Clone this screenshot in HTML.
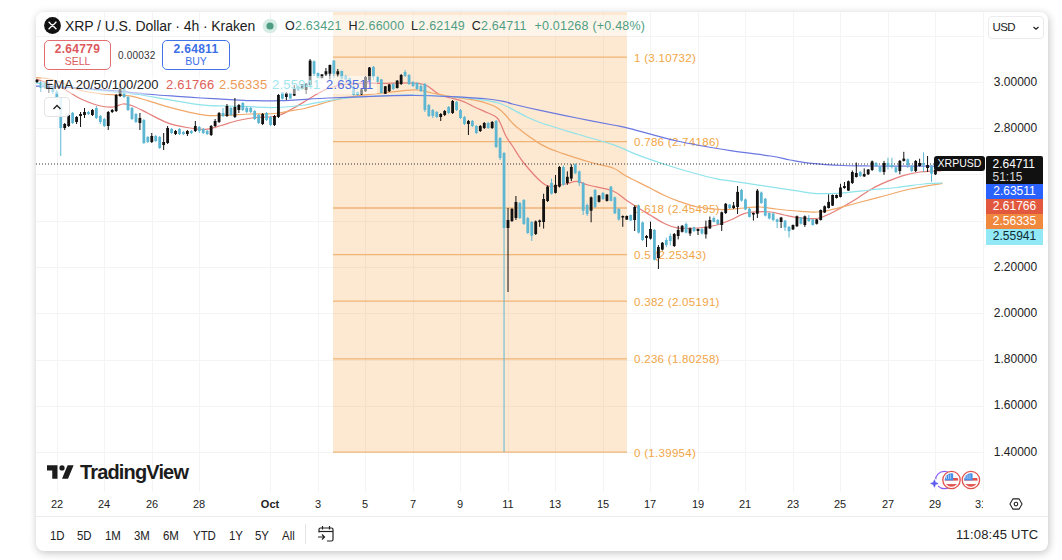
<!DOCTYPE html>
<html><head><meta charset="utf-8"><title>XRPUSD chart</title>
<style>
html,body{margin:0;padding:0;background:#fff;}
body{width:1062px;height:560px;position:relative;overflow:hidden;font-family:"Liberation Sans",sans-serif;color:#222;}
.card{position:absolute;left:36px;top:12px;width:1012px;height:538.5px;background:#fff;border-radius:8px;box-shadow:1px 2px 8px 0 rgba(0,0,0,.24);}
.abs{position:absolute;white-space:nowrap;line-height:1;}
.t12{font-size:12px}
.pl{position:absolute;left:986px;width:57px;height:15px;font-size:12px;line-height:15px;text-align:center;color:#fff;}
.ax{position:absolute;left:984px;width:63px;text-align:center;font-size:12px;color:#222;line-height:12px;}
.tm{position:absolute;top:499px;font-size:11px;line-height:11px;color:#222;transform:translateX(-50%);}
.tb{position:absolute;top:528.5px;font-size:13px;line-height:13px;color:#222;transform:scaleX(.88);transform-origin:0 0;}
</style></head><body>
<div class="card"></div>
<svg width="1062" height="560" viewBox="0 0 1062 560" style="position:absolute;left:0;top:0" font-family="Liberation Sans, sans-serif">
<defs><clipPath id="plot"><rect x="36" y="12" width="948" height="480"/></clipPath><clipPath id="card"><rect x="36" y="12" width="1012" height="539" rx="8"/></clipPath></defs>
<g stroke="#f4f4f6" stroke-width="1" shape-rendering="crispEdges">
<line x1="57.5" y1="12" x2="57.5" y2="492"/>
<line x1="104.5" y1="12" x2="104.5" y2="492"/>
<line x1="152.5" y1="12" x2="152.5" y2="492"/>
<line x1="199.5" y1="12" x2="199.5" y2="492"/>
<line x1="270.5" y1="12" x2="270.5" y2="492"/>
<line x1="318.5" y1="12" x2="318.5" y2="492"/>
<line x1="365.5" y1="12" x2="365.5" y2="492"/>
<line x1="413.5" y1="12" x2="413.5" y2="492"/>
<line x1="460.5" y1="12" x2="460.5" y2="492"/>
<line x1="508.5" y1="12" x2="508.5" y2="492"/>
<line x1="555.5" y1="12" x2="555.5" y2="492"/>
<line x1="603.5" y1="12" x2="603.5" y2="492"/>
<line x1="650.5" y1="12" x2="650.5" y2="492"/>
<line x1="698.5" y1="12" x2="698.5" y2="492"/>
<line x1="745.5" y1="12" x2="745.5" y2="492"/>
<line x1="793.5" y1="12" x2="793.5" y2="492"/>
<line x1="840.5" y1="12" x2="840.5" y2="492"/>
<line x1="888.5" y1="12" x2="888.5" y2="492"/>
<line x1="935.5" y1="12" x2="935.5" y2="492"/>
<line x1="983.5" y1="12" x2="983.5" y2="492"/>
<line x1="36" y1="82.5" x2="984" y2="82.5"/>
<line x1="36" y1="128.5" x2="984" y2="128.5"/>
<line x1="36" y1="174.5" x2="984" y2="174.5"/>
<line x1="36" y1="221.5" x2="984" y2="221.5"/>
<line x1="36" y1="267.5" x2="984" y2="267.5"/>
<line x1="36" y1="313.5" x2="984" y2="313.5"/>
<line x1="36" y1="360.5" x2="984" y2="360.5"/>
<line x1="36" y1="406.5" x2="984" y2="406.5"/>
<line x1="36" y1="452.5" x2="984" y2="452.5"/>
<line x1="36" y1="36.5" x2="984" y2="36.5"/>
</g>
<rect x="333" y="12" width="294" height="440" fill="#f5a040" fill-opacity="0.24"/>
<line x1="333" y1="57.2" x2="627" y2="57.2" stroke="#efb577" stroke-width="1.3"/>
<line x1="333" y1="141.7" x2="627" y2="141.7" stroke="#efb577" stroke-width="1.3"/>
<line x1="333" y1="208.0" x2="627" y2="208.0" stroke="#efb577" stroke-width="1.3"/>
<line x1="333" y1="254.6" x2="627" y2="254.6" stroke="#efb577" stroke-width="1.3"/>
<line x1="333" y1="301.2" x2="627" y2="301.2" stroke="#efb577" stroke-width="1.3"/>
<line x1="333" y1="358.9" x2="627" y2="358.9" stroke="#efb577" stroke-width="1.3"/>
<line x1="333" y1="452.1" x2="627" y2="452.1" stroke="#efb577" stroke-width="1.3"/>
<text x="634" y="61.7" font-size="11.5" letter-spacing="0.3" fill="#f1a544">1 (3.10732)</text>
<text x="634" y="146.2" font-size="11.5" letter-spacing="0.3" fill="#f1a544">0.786 (2.74186)</text>
<text x="634" y="212.5" font-size="11.5" letter-spacing="0.3" fill="#f1a544">0.618 (2.45495)</text>
<text x="634" y="259.1" font-size="11.5" letter-spacing="0.3" fill="#f1a544">0.5 (2.25343)</text>
<text x="634" y="305.7" font-size="11.5" letter-spacing="0.3" fill="#f1a544">0.382 (2.05191)</text>
<text x="634" y="363.4" font-size="11.5" letter-spacing="0.3" fill="#f1a544">0.236 (1.80258)</text>
<text x="634" y="456.6" font-size="11.5" letter-spacing="0.3" fill="#f1a544">0 (1.39954)</text>
<g fill="none" stroke-width="1.25" stroke-linejoin="round" clip-path="url(#plot)">
<path d="M36.0,79.0C38.0,79.7 43.7,81.5 48.0,83.0C52.3,84.5 56.8,85.5 62.0,88.0C67.2,90.5 72.9,95.1 79.0,98.0C85.1,100.9 92.8,104.0 98.5,105.5C104.2,107.0 108.9,107.2 113.0,107.0C117.1,106.8 119.7,104.2 123.0,104.0C126.3,103.8 128.9,104.5 133.0,106.0C137.1,107.5 141.8,110.2 147.5,113.0C153.2,115.8 160.5,120.2 167.0,122.6C173.5,125.0 180.2,126.4 186.7,127.5C193.2,128.6 200.3,129.6 206.0,129.3C211.7,129.0 215.7,127.0 221.0,125.5C226.3,124.0 232.3,121.8 238.0,120.5C243.7,119.2 249.7,118.1 255.0,117.5C260.3,116.9 265.8,117.4 270.0,117.0C274.2,116.6 276.3,116.3 280.0,115.0C283.7,113.7 287.9,111.2 292.0,109.0C296.1,106.8 300.4,104.0 304.5,101.6C308.6,99.1 312.6,96.6 316.7,94.3C320.8,92.0 324.5,89.6 329.0,88.0C333.5,86.4 337.5,85.3 343.6,84.5C349.7,83.7 359.1,83.5 365.7,83.3C372.3,83.1 376.9,83.4 383.0,83.3C389.1,83.2 396.3,82.8 402.0,82.8C407.7,82.8 412.8,82.8 417.0,83.3C421.2,83.8 423.3,83.9 427.0,85.7C430.7,87.5 435.0,92.2 439.0,94.3C443.0,96.3 446.9,96.8 451.0,98.0C455.1,99.2 459.4,100.0 463.6,101.6C467.8,103.2 471.9,105.8 476.0,107.7C480.1,109.6 484.3,111.2 488.0,113.0C491.7,114.8 495.1,115.0 498.0,118.8C500.9,122.6 503.3,131.2 505.7,135.7C508.1,140.2 509.5,141.5 512.5,146.0C515.5,150.5 518.7,156.5 523.5,162.5C528.3,168.5 536.6,178.0 541.4,182.0C546.1,186.0 548.1,186.1 552.0,186.4C555.9,186.7 560.8,184.8 565.0,184.0C569.2,183.2 573.2,181.2 577.0,181.4C580.8,181.6 582.0,183.4 588.0,185.0C594.0,186.6 606.7,188.5 613.0,191.0C619.3,193.5 622.0,197.3 626.0,200.0C630.0,202.7 632.8,204.5 636.8,207.0C640.8,209.5 645.5,212.3 650.0,215.0C654.5,217.7 659.0,220.9 663.5,223.0C668.0,225.1 671.2,227.0 677.0,227.8C682.8,228.6 691.3,228.5 698.0,228.0C704.7,227.5 711.6,226.3 717.0,225.0C722.4,223.7 726.0,221.9 730.5,220.0C735.0,218.1 739.6,215.0 744.0,213.6C748.4,212.2 752.6,212.1 757.0,211.8C761.4,211.5 766.1,211.5 770.6,212.0C775.1,212.5 779.5,214.1 784.0,215.0C788.5,215.9 791.9,217.0 797.4,217.6C802.9,218.2 811.4,219.2 816.8,218.5C822.2,217.8 825.5,215.7 830.0,213.7C834.5,211.7 839.0,209.0 843.5,206.5C848.0,204.0 852.2,201.5 857.0,198.5C861.8,195.5 866.8,191.6 872.0,188.7C877.2,185.8 882.7,183.4 888.0,181.2C893.3,179.0 898.7,176.8 904.0,175.3C909.3,173.8 915.0,172.7 920.0,172.0C925.0,171.3 930.5,171.2 934.0,171.0C937.5,170.8 939.8,170.8 941.0,170.8" stroke="#e57f7a"/>
<path d="M36.0,77.5C38.3,77.8 45.2,77.9 50.0,79.0C54.8,80.1 60.2,82.2 65.0,84.0C69.8,85.8 72.7,88.3 79.0,90.0C85.3,91.7 94.8,93.0 103.0,94.0C111.2,95.0 120.6,94.6 128.0,95.7C135.4,96.8 141.0,98.8 147.5,100.6C154.0,102.4 160.5,104.9 167.0,106.7C173.5,108.5 180.2,110.2 186.7,111.6C193.2,113.0 199.4,114.7 206.0,115.3C212.6,115.9 218.7,115.5 226.0,115.3C233.3,115.1 241.8,114.3 250.0,114.0C258.2,113.7 268.3,114.0 275.0,113.5C281.7,113.0 285.1,111.8 290.0,111.0C294.9,110.2 300.0,109.5 304.5,108.5C309.0,107.5 312.9,106.2 317.0,105.0C321.1,103.8 324.8,102.6 329.0,101.5C333.2,100.4 338.0,99.3 342.0,98.5C346.0,97.7 347.0,97.3 353.0,96.5C359.0,95.7 369.8,94.5 378.0,93.5C386.2,92.5 395.5,91.4 402.0,90.8C408.5,90.2 412.0,89.6 417.0,90.0C422.0,90.4 426.3,91.9 432.0,93.0C437.7,94.1 443.7,95.5 451.0,96.7C458.3,97.9 469.2,99.0 476.0,100.4C482.8,101.8 487.7,103.6 491.5,105.0C495.3,106.4 496.8,107.4 499.0,109.0C501.2,110.6 502.1,111.5 505.0,114.5C507.9,117.5 510.3,121.8 516.4,126.8C522.5,131.8 533.6,140.1 541.4,144.6C549.2,149.1 554.7,150.6 563.0,153.6C571.3,156.6 583.1,160.1 591.4,162.5C599.7,164.9 607.2,165.8 613.0,168.0C618.8,170.2 619.8,172.7 626.0,176.0C632.2,179.3 643.8,184.8 650.0,188.0C656.2,191.2 658.6,192.7 663.5,195.0C668.4,197.3 673.9,199.6 679.6,201.6C685.4,203.6 690.9,205.7 698.0,207.0C705.1,208.3 714.3,209.4 722.0,209.6C729.7,209.8 737.7,208.4 744.0,208.0C750.3,207.6 754.7,206.8 760.0,207.0C765.3,207.2 769.8,208.3 776.0,209.0C782.2,209.7 790.2,210.5 797.0,211.0C803.8,211.5 811.3,212.2 816.8,212.0C822.3,211.8 823.3,211.5 830.0,210.0C836.7,208.5 848.0,205.3 857.0,203.0C866.0,200.7 874.8,198.3 883.7,196.0C892.6,193.7 900.7,191.1 910.5,189.0C920.3,186.9 937.2,184.2 942.6,183.3" stroke="#f0a96a"/>
<path d="M36.0,83.0C40.0,83.4 48.8,84.2 60.0,85.5C71.2,86.8 90.0,89.5 103.0,91.0C116.0,92.5 127.3,93.1 138.0,94.5C148.7,95.9 156.5,97.7 167.0,99.4C177.5,101.1 191.2,103.7 201.0,104.8C210.8,105.9 217.8,105.7 226.0,106.0C234.2,106.3 241.8,106.5 250.0,106.7C258.2,107.0 265.9,107.8 275.0,107.5C284.1,107.2 295.5,106.2 304.5,105.0C313.5,103.8 320.9,101.8 329.0,100.5C337.1,99.2 344.8,98.2 353.0,97.5C361.2,96.8 367.7,96.4 378.0,96.0C388.3,95.6 402.4,94.9 414.6,95.0C426.8,95.1 440.8,96.0 451.0,96.7C461.2,97.4 467.8,97.9 476.0,99.0C484.2,100.1 491.8,100.7 500.0,103.5C508.2,106.3 518.1,112.8 525.0,116.0C531.9,119.2 532.7,120.0 541.4,123.0C550.1,126.0 565.1,130.4 577.0,134.0C588.9,137.6 603.0,141.2 613.0,144.6C623.0,148.0 628.4,151.5 636.8,154.7C645.2,157.9 654.6,161.1 663.5,164.0C672.4,166.9 681.1,169.5 690.0,172.0C698.9,174.5 708.0,177.0 717.0,178.8C726.0,180.6 735.1,181.5 744.0,182.8C752.9,184.2 761.7,185.6 770.6,186.9C779.5,188.2 789.7,189.8 797.4,190.9C805.1,192.0 809.1,193.3 816.8,193.6C824.5,193.9 834.6,193.4 843.5,192.8C852.4,192.2 861.1,190.9 870.0,190.0C878.9,189.1 888.0,188.5 897.0,187.5C906.0,186.5 916.4,184.8 924.0,184.0C931.6,183.2 939.5,183.2 942.6,183.0" stroke="#8fe3ea"/>
<path d="M36.0,86.0C40.0,86.2 48.8,86.4 60.0,87.0C71.2,87.6 91.3,88.9 103.0,89.8C114.7,90.7 121.8,91.5 130.0,92.3C138.2,93.1 144.2,93.8 152.0,94.5C159.8,95.2 168.8,95.8 177.0,96.4C185.2,97.0 192.8,97.5 201.0,98.0C209.2,98.5 217.8,99.0 226.0,99.4C234.2,99.8 241.0,100.4 250.0,100.6C259.0,100.8 266.8,101.0 280.0,100.6C293.2,100.2 312.7,98.7 329.0,98.0C345.3,97.3 363.7,96.6 378.0,96.2C392.3,95.8 402.4,95.4 414.6,95.5C426.8,95.6 438.8,96.1 451.0,96.7C463.2,97.3 478.9,98.2 488.0,99.0C497.1,99.8 501.6,101.0 505.7,101.8C509.8,102.6 506.6,102.5 512.5,104.0C518.5,105.5 530.6,108.4 541.4,110.7C552.1,113.0 565.1,115.6 577.0,118.0C588.9,120.4 604.2,123.2 613.0,125.0C621.8,126.8 619.3,125.9 630.0,128.6C640.7,131.3 660.2,137.3 677.0,141.0C693.8,144.7 714.9,148.2 730.5,150.7C746.1,153.2 760.7,154.4 770.6,156.0C780.5,157.6 783.3,158.8 790.0,160.0C796.7,161.2 802.1,162.5 811.0,163.4C819.9,164.3 833.7,165.1 843.5,165.5C853.3,165.9 858.8,165.9 870.0,166.0C881.2,166.1 898.5,166.0 910.5,166.0C922.5,166.0 936.8,166.0 942.0,166.0" stroke="#6b78e0"/>
</g>
<line x1="36" y1="164" x2="984" y2="164" stroke="#333" stroke-width="1" stroke-dasharray="1 2"/>
<g shape-rendering="auto">
<line x1="37.00" y1="79" x2="37.00" y2="83" stroke="#111111" stroke-width="1"/>
<rect x="35.60" y="80" width="2.8" height="2" fill="#111111"/>
<line x1="40.96" y1="81" x2="40.96" y2="92" stroke="#5db7d3" stroke-width="1"/>
<rect x="39.56" y="82" width="2.8" height="6" fill="#5db7d3"/>
<line x1="44.92" y1="82" x2="44.92" y2="89" stroke="#5db7d3" stroke-width="1"/>
<rect x="43.52" y="83" width="2.8" height="5" fill="#5db7d3"/>
<line x1="48.87" y1="85" x2="48.87" y2="93" stroke="#111111" stroke-width="1"/>
<rect x="47.47" y="87" width="2.8" height="2" fill="#111111"/>
<line x1="52.83" y1="86" x2="52.83" y2="94" stroke="#5db7d3" stroke-width="1"/>
<rect x="51.43" y="87" width="2.8" height="5" fill="#5db7d3"/>
<line x1="56.79" y1="90" x2="56.79" y2="100" stroke="#5db7d3" stroke-width="1"/>
<rect x="55.39" y="92" width="2.8" height="6" fill="#5db7d3"/>
<line x1="60.75" y1="97" x2="60.75" y2="156" stroke="#5db7d3" stroke-width="1"/>
<rect x="59.35" y="98" width="2.8" height="30" fill="#5db7d3"/>
<line x1="64.71" y1="123" x2="64.71" y2="130" stroke="#111111" stroke-width="1"/>
<rect x="63.31" y="124" width="2.8" height="4" fill="#111111"/>
<line x1="68.66" y1="114" x2="68.66" y2="127" stroke="#111111" stroke-width="1"/>
<rect x="67.26" y="115" width="2.8" height="11" fill="#111111"/>
<line x1="72.62" y1="112" x2="72.62" y2="124" stroke="#5db7d3" stroke-width="1"/>
<rect x="71.22" y="113" width="2.8" height="10" fill="#5db7d3"/>
<line x1="76.58" y1="116" x2="76.58" y2="124" stroke="#111111" stroke-width="1"/>
<rect x="75.18" y="117" width="2.8" height="5" fill="#111111"/>
<line x1="80.54" y1="112" x2="80.54" y2="127" stroke="#111111" stroke-width="1"/>
<rect x="79.14" y="114" width="2.8" height="2" fill="#111111"/>
<line x1="84.50" y1="108" x2="84.50" y2="118" stroke="#111111" stroke-width="1"/>
<rect x="83.10" y="112" width="2.8" height="3" fill="#111111"/>
<line x1="88.45" y1="111" x2="88.45" y2="115" stroke="#5db7d3" stroke-width="1"/>
<rect x="87.05" y="112" width="2.8" height="2" fill="#5db7d3"/>
<line x1="92.41" y1="109" x2="92.41" y2="116" stroke="#111111" stroke-width="1"/>
<rect x="91.01" y="110" width="2.8" height="5" fill="#111111"/>
<line x1="96.37" y1="106" x2="96.37" y2="119" stroke="#5db7d3" stroke-width="1"/>
<rect x="94.97" y="108" width="2.8" height="10" fill="#5db7d3"/>
<line x1="100.33" y1="115" x2="100.33" y2="124" stroke="#5db7d3" stroke-width="1"/>
<rect x="98.93" y="116" width="2.8" height="6" fill="#5db7d3"/>
<line x1="104.29" y1="118" x2="104.29" y2="127" stroke="#5db7d3" stroke-width="1"/>
<rect x="102.89" y="119" width="2.8" height="7" fill="#5db7d3"/>
<line x1="108.24" y1="111" x2="108.24" y2="130" stroke="#111111" stroke-width="1"/>
<rect x="106.84" y="112" width="2.8" height="14" fill="#111111"/>
<line x1="112.20" y1="109" x2="112.20" y2="113" stroke="#111111" stroke-width="1"/>
<rect x="110.80" y="110" width="2.8" height="2" fill="#111111"/>
<line x1="116.16" y1="94" x2="116.16" y2="112" stroke="#111111" stroke-width="1"/>
<rect x="114.76" y="95" width="2.8" height="16" fill="#111111"/>
<line x1="120.12" y1="84" x2="120.12" y2="97" stroke="#111111" stroke-width="1"/>
<rect x="118.72" y="89" width="2.8" height="7" fill="#111111"/>
<line x1="124.08" y1="86" x2="124.08" y2="98" stroke="#5db7d3" stroke-width="1"/>
<rect x="122.68" y="88" width="2.8" height="9" fill="#5db7d3"/>
<line x1="128.03" y1="96" x2="128.03" y2="111" stroke="#5db7d3" stroke-width="1"/>
<rect x="126.63" y="97" width="2.8" height="13" fill="#5db7d3"/>
<line x1="131.99" y1="107" x2="131.99" y2="120" stroke="#5db7d3" stroke-width="1"/>
<rect x="130.59" y="108" width="2.8" height="11" fill="#5db7d3"/>
<line x1="135.95" y1="113" x2="135.95" y2="123" stroke="#5db7d3" stroke-width="1"/>
<rect x="134.55" y="114" width="2.8" height="8" fill="#5db7d3"/>
<line x1="139.91" y1="113" x2="139.91" y2="130" stroke="#111111" stroke-width="1"/>
<rect x="138.51" y="118" width="2.8" height="5" fill="#111111"/>
<line x1="143.87" y1="119" x2="143.87" y2="144" stroke="#5db7d3" stroke-width="1"/>
<rect x="142.47" y="120" width="2.8" height="23" fill="#5db7d3"/>
<line x1="147.82" y1="136" x2="147.82" y2="143" stroke="#5db7d3" stroke-width="1"/>
<rect x="146.42" y="137" width="2.8" height="5" fill="#5db7d3"/>
<line x1="151.78" y1="133" x2="151.78" y2="143" stroke="#111111" stroke-width="1"/>
<rect x="150.38" y="136" width="2.8" height="6" fill="#111111"/>
<line x1="155.74" y1="135" x2="155.74" y2="142" stroke="#5db7d3" stroke-width="1"/>
<rect x="154.34" y="136" width="2.8" height="5" fill="#5db7d3"/>
<line x1="159.70" y1="136" x2="159.70" y2="149" stroke="#5db7d3" stroke-width="1"/>
<rect x="158.30" y="137" width="2.8" height="11" fill="#5db7d3"/>
<line x1="163.66" y1="133" x2="163.66" y2="150" stroke="#111111" stroke-width="1"/>
<rect x="162.26" y="142" width="2.8" height="3" fill="#111111"/>
<line x1="167.61" y1="126" x2="167.61" y2="144" stroke="#111111" stroke-width="1"/>
<rect x="166.21" y="128" width="2.8" height="15" fill="#111111"/>
<line x1="171.57" y1="128" x2="171.57" y2="134" stroke="#5db7d3" stroke-width="1"/>
<rect x="170.17" y="129" width="2.8" height="4" fill="#5db7d3"/>
<line x1="175.53" y1="130" x2="175.53" y2="135" stroke="#111111" stroke-width="1"/>
<rect x="174.13" y="131" width="2.8" height="3" fill="#111111"/>
<line x1="179.49" y1="128" x2="179.49" y2="135" stroke="#5db7d3" stroke-width="1"/>
<rect x="178.09" y="129" width="2.8" height="5" fill="#5db7d3"/>
<line x1="183.45" y1="131" x2="183.45" y2="135" stroke="#5db7d3" stroke-width="1"/>
<rect x="182.05" y="132" width="2.8" height="2" fill="#5db7d3"/>
<line x1="187.40" y1="130" x2="187.40" y2="136" stroke="#111111" stroke-width="1"/>
<rect x="186.00" y="131" width="2.8" height="3" fill="#111111"/>
<line x1="191.36" y1="130" x2="191.36" y2="134" stroke="#5db7d3" stroke-width="1"/>
<rect x="189.96" y="131" width="2.8" height="2" fill="#5db7d3"/>
<line x1="195.32" y1="121" x2="195.32" y2="132" stroke="#111111" stroke-width="1"/>
<rect x="193.92" y="126" width="2.8" height="5" fill="#111111"/>
<line x1="199.28" y1="126" x2="199.28" y2="133" stroke="#5db7d3" stroke-width="1"/>
<rect x="197.88" y="127" width="2.8" height="4" fill="#5db7d3"/>
<line x1="203.24" y1="128" x2="203.24" y2="134" stroke="#5db7d3" stroke-width="1"/>
<rect x="201.84" y="129" width="2.8" height="4" fill="#5db7d3"/>
<line x1="207.19" y1="130" x2="207.19" y2="135" stroke="#5db7d3" stroke-width="1"/>
<rect x="205.79" y="131" width="2.8" height="3" fill="#5db7d3"/>
<line x1="211.15" y1="125" x2="211.15" y2="136" stroke="#111111" stroke-width="1"/>
<rect x="209.75" y="126" width="2.8" height="9" fill="#111111"/>
<line x1="215.11" y1="119" x2="215.11" y2="127" stroke="#111111" stroke-width="1"/>
<rect x="213.71" y="121" width="2.8" height="5" fill="#111111"/>
<line x1="219.07" y1="112" x2="219.07" y2="123" stroke="#111111" stroke-width="1"/>
<rect x="217.67" y="113" width="2.8" height="9" fill="#111111"/>
<line x1="223.03" y1="108" x2="223.03" y2="117" stroke="#5db7d3" stroke-width="1"/>
<rect x="221.63" y="113" width="2.8" height="3" fill="#5db7d3"/>
<line x1="226.98" y1="104" x2="226.98" y2="117" stroke="#111111" stroke-width="1"/>
<rect x="225.58" y="106" width="2.8" height="10" fill="#111111"/>
<line x1="230.94" y1="107" x2="230.94" y2="116" stroke="#5db7d3" stroke-width="1"/>
<rect x="229.54" y="108" width="2.8" height="7" fill="#5db7d3"/>
<line x1="234.90" y1="98" x2="234.90" y2="118" stroke="#111111" stroke-width="1"/>
<rect x="233.50" y="107" width="2.8" height="10" fill="#111111"/>
<line x1="238.86" y1="104" x2="238.86" y2="113" stroke="#111111" stroke-width="1"/>
<rect x="237.46" y="105" width="2.8" height="5" fill="#111111"/>
<line x1="242.82" y1="102" x2="242.82" y2="111" stroke="#5db7d3" stroke-width="1"/>
<rect x="241.42" y="103" width="2.8" height="7" fill="#5db7d3"/>
<line x1="246.77" y1="106" x2="246.77" y2="113" stroke="#5db7d3" stroke-width="1"/>
<rect x="245.37" y="108" width="2.8" height="4" fill="#5db7d3"/>
<line x1="250.73" y1="107" x2="250.73" y2="113" stroke="#5db7d3" stroke-width="1"/>
<rect x="249.33" y="108" width="2.8" height="4" fill="#5db7d3"/>
<line x1="254.69" y1="110" x2="254.69" y2="120" stroke="#5db7d3" stroke-width="1"/>
<rect x="253.29" y="111" width="2.8" height="8" fill="#5db7d3"/>
<line x1="258.65" y1="114" x2="258.65" y2="124" stroke="#5db7d3" stroke-width="1"/>
<rect x="257.25" y="115" width="2.8" height="8" fill="#5db7d3"/>
<line x1="262.61" y1="113" x2="262.61" y2="125" stroke="#111111" stroke-width="1"/>
<rect x="261.21" y="114" width="2.8" height="10" fill="#111111"/>
<line x1="266.56" y1="112" x2="266.56" y2="121" stroke="#5db7d3" stroke-width="1"/>
<rect x="265.16" y="113" width="2.8" height="7" fill="#5db7d3"/>
<line x1="270.52" y1="116" x2="270.52" y2="126" stroke="#5db7d3" stroke-width="1"/>
<rect x="269.12" y="117" width="2.8" height="8" fill="#5db7d3"/>
<line x1="274.48" y1="115" x2="274.48" y2="126" stroke="#111111" stroke-width="1"/>
<rect x="273.08" y="116" width="2.8" height="9" fill="#111111"/>
<line x1="278.44" y1="94" x2="278.44" y2="118" stroke="#111111" stroke-width="1"/>
<rect x="277.04" y="95" width="2.8" height="22" fill="#111111"/>
<line x1="282.40" y1="92" x2="282.40" y2="99.5" stroke="#5db7d3" stroke-width="1"/>
<rect x="281.00" y="92.5" width="2.8" height="6.25" fill="#5db7d3"/>
<line x1="286.35" y1="92" x2="286.35" y2="100" stroke="#111111" stroke-width="1"/>
<rect x="284.95" y="93" width="2.8" height="4" fill="#111111"/>
<line x1="290.31" y1="92.5" x2="290.31" y2="98.75" stroke="#5db7d3" stroke-width="1"/>
<rect x="288.91" y="93" width="2.8" height="5.5" fill="#5db7d3"/>
<line x1="294.27" y1="85" x2="294.27" y2="96" stroke="#111111" stroke-width="1"/>
<rect x="292.87" y="88.75" width="2.8" height="6.849999999999994" fill="#111111"/>
<line x1="298.23" y1="85.5" x2="298.23" y2="91" stroke="#5db7d3" stroke-width="1"/>
<rect x="296.83" y="86.25" width="2.8" height="4.349999999999994" fill="#5db7d3"/>
<line x1="302.19" y1="84" x2="302.19" y2="89.5" stroke="#111111" stroke-width="1"/>
<rect x="300.79" y="84.4" width="2.8" height="4.349999999999994" fill="#111111"/>
<line x1="306.14" y1="83" x2="306.14" y2="94" stroke="#111111" stroke-width="1"/>
<rect x="304.74" y="83.75" width="2.8" height="6.25" fill="#111111"/>
<line x1="310.10" y1="59" x2="310.10" y2="86" stroke="#111111" stroke-width="1"/>
<rect x="308.70" y="60.6" width="2.8" height="24.4" fill="#111111"/>
<line x1="314.06" y1="60.5" x2="314.06" y2="76" stroke="#5db7d3" stroke-width="1"/>
<rect x="312.66" y="61.25" width="2.8" height="12.5" fill="#5db7d3"/>
<line x1="318.02" y1="72.5" x2="318.02" y2="78.5" stroke="#5db7d3" stroke-width="1"/>
<rect x="316.62" y="73" width="2.8" height="5" fill="#5db7d3"/>
<line x1="321.98" y1="74" x2="321.98" y2="78.5" stroke="#111111" stroke-width="1"/>
<rect x="320.58" y="74.4" width="2.8" height="3.5999999999999943" fill="#111111"/>
<line x1="325.93" y1="68" x2="325.93" y2="76" stroke="#111111" stroke-width="1"/>
<rect x="324.53" y="71.25" width="2.8" height="3.1500000000000057" fill="#111111"/>
<line x1="329.89" y1="64.5" x2="329.89" y2="79.4" stroke="#111111" stroke-width="1"/>
<rect x="328.49" y="65" width="2.8" height="8.75" fill="#111111"/>
<line x1="333.85" y1="60" x2="333.85" y2="78" stroke="#5db7d3" stroke-width="1"/>
<rect x="332.45" y="60.6" width="2.8" height="13.149999999999999" fill="#5db7d3"/>
<line x1="337.81" y1="69" x2="337.81" y2="77" stroke="#111111" stroke-width="1"/>
<rect x="336.41" y="71.25" width="2.8" height="3.1500000000000057" fill="#111111"/>
<line x1="341.77" y1="70.6" x2="341.77" y2="79.4" stroke="#5db7d3" stroke-width="1"/>
<rect x="340.37" y="71" width="2.8" height="7.5" fill="#5db7d3"/>
<line x1="345.72" y1="75" x2="345.72" y2="80" stroke="#5db7d3" stroke-width="1"/>
<rect x="344.32" y="76" width="2.8" height="3.5" fill="#5db7d3"/>
<line x1="349.68" y1="77.5" x2="349.68" y2="84.5" stroke="#5db7d3" stroke-width="1"/>
<rect x="348.28" y="78" width="2.8" height="5.75" fill="#5db7d3"/>
<line x1="353.64" y1="85.5" x2="353.64" y2="95.5" stroke="#5db7d3" stroke-width="1"/>
<rect x="352.24" y="86.25" width="2.8" height="8.75" fill="#5db7d3"/>
<line x1="357.60" y1="91.5" x2="357.60" y2="95.5" stroke="#5db7d3" stroke-width="1"/>
<rect x="356.20" y="92" width="2.8" height="3" fill="#5db7d3"/>
<line x1="361.56" y1="89" x2="361.56" y2="95" stroke="#111111" stroke-width="1"/>
<rect x="360.16" y="89.4" width="2.8" height="5.0" fill="#111111"/>
<line x1="365.51" y1="76" x2="365.51" y2="92" stroke="#111111" stroke-width="1"/>
<rect x="364.11" y="76.9" width="2.8" height="14.349999999999994" fill="#111111"/>
<line x1="369.47" y1="67" x2="369.47" y2="80.5" stroke="#111111" stroke-width="1"/>
<rect x="368.07" y="67.5" width="2.8" height="12.5" fill="#111111"/>
<line x1="373.43" y1="66" x2="373.43" y2="80" stroke="#5db7d3" stroke-width="1"/>
<rect x="372.03" y="66.9" width="2.8" height="10.0" fill="#5db7d3"/>
<line x1="377.39" y1="76.5" x2="377.39" y2="82.5" stroke="#5db7d3" stroke-width="1"/>
<rect x="375.99" y="76.9" width="2.8" height="5.099999999999994" fill="#5db7d3"/>
<line x1="381.35" y1="79" x2="381.35" y2="93.5" stroke="#5db7d3" stroke-width="1"/>
<rect x="379.95" y="79.4" width="2.8" height="13.599999999999994" fill="#5db7d3"/>
<line x1="385.30" y1="86" x2="385.30" y2="94" stroke="#111111" stroke-width="1"/>
<rect x="383.90" y="86.25" width="2.8" height="7.5" fill="#111111"/>
<line x1="389.26" y1="84" x2="389.26" y2="92" stroke="#111111" stroke-width="1"/>
<rect x="387.86" y="84.4" width="2.8" height="6.849999999999994" fill="#111111"/>
<line x1="393.22" y1="83" x2="393.22" y2="90" stroke="#5db7d3" stroke-width="1"/>
<rect x="391.82" y="84" width="2.8" height="5" fill="#5db7d3"/>
<line x1="397.18" y1="80" x2="397.18" y2="88.5" stroke="#111111" stroke-width="1"/>
<rect x="395.78" y="80.6" width="2.8" height="7.400000000000006" fill="#111111"/>
<line x1="401.14" y1="74" x2="401.14" y2="85" stroke="#111111" stroke-width="1"/>
<rect x="399.74" y="75" width="2.8" height="9" fill="#111111"/>
<line x1="405.09" y1="70" x2="405.09" y2="77" stroke="#5db7d3" stroke-width="1"/>
<rect x="403.69" y="72" width="2.8" height="4" fill="#5db7d3"/>
<line x1="409.05" y1="74" x2="409.05" y2="85" stroke="#5db7d3" stroke-width="1"/>
<rect x="407.65" y="75" width="2.8" height="9" fill="#5db7d3"/>
<line x1="413.01" y1="81" x2="413.01" y2="87" stroke="#5db7d3" stroke-width="1"/>
<rect x="411.61" y="82" width="2.8" height="4" fill="#5db7d3"/>
<line x1="416.97" y1="82" x2="416.97" y2="90" stroke="#5db7d3" stroke-width="1"/>
<rect x="415.57" y="83" width="2.8" height="6" fill="#5db7d3"/>
<line x1="420.93" y1="84" x2="420.93" y2="92" stroke="#5db7d3" stroke-width="1"/>
<rect x="419.53" y="86" width="2.8" height="5" fill="#5db7d3"/>
<line x1="424.88" y1="83" x2="424.88" y2="112" stroke="#5db7d3" stroke-width="1"/>
<rect x="423.48" y="84" width="2.8" height="26" fill="#5db7d3"/>
<line x1="428.84" y1="104" x2="428.84" y2="117" stroke="#5db7d3" stroke-width="1"/>
<rect x="427.44" y="105" width="2.8" height="11" fill="#5db7d3"/>
<line x1="432.80" y1="109" x2="432.80" y2="118" stroke="#5db7d3" stroke-width="1"/>
<rect x="431.40" y="110" width="2.8" height="6" fill="#5db7d3"/>
<line x1="436.76" y1="111" x2="436.76" y2="118" stroke="#5db7d3" stroke-width="1"/>
<rect x="435.36" y="112" width="2.8" height="5" fill="#5db7d3"/>
<line x1="440.72" y1="113" x2="440.72" y2="121" stroke="#111111" stroke-width="1"/>
<rect x="439.32" y="114" width="2.8" height="3" fill="#111111"/>
<line x1="444.67" y1="110" x2="444.67" y2="116" stroke="#111111" stroke-width="1"/>
<rect x="443.27" y="111" width="2.8" height="4" fill="#111111"/>
<line x1="448.63" y1="106" x2="448.63" y2="114" stroke="#5db7d3" stroke-width="1"/>
<rect x="447.23" y="107" width="2.8" height="6" fill="#5db7d3"/>
<line x1="452.59" y1="100" x2="452.59" y2="114" stroke="#111111" stroke-width="1"/>
<rect x="451.19" y="101" width="2.8" height="12" fill="#111111"/>
<line x1="456.55" y1="101" x2="456.55" y2="111" stroke="#5db7d3" stroke-width="1"/>
<rect x="455.15" y="102" width="2.8" height="8" fill="#5db7d3"/>
<line x1="460.51" y1="109" x2="460.51" y2="119" stroke="#5db7d3" stroke-width="1"/>
<rect x="459.11" y="110" width="2.8" height="8" fill="#5db7d3"/>
<line x1="464.46" y1="116" x2="464.46" y2="125" stroke="#5db7d3" stroke-width="1"/>
<rect x="463.06" y="117" width="2.8" height="7" fill="#5db7d3"/>
<line x1="468.42" y1="120" x2="468.42" y2="135" stroke="#111111" stroke-width="1"/>
<rect x="467.02" y="121" width="2.8" height="3" fill="#111111"/>
<line x1="472.38" y1="120" x2="472.38" y2="127" stroke="#5db7d3" stroke-width="1"/>
<rect x="470.98" y="121" width="2.8" height="5" fill="#5db7d3"/>
<line x1="476.34" y1="125" x2="476.34" y2="134" stroke="#5db7d3" stroke-width="1"/>
<rect x="474.94" y="126" width="2.8" height="7" fill="#5db7d3"/>
<line x1="480.30" y1="125" x2="480.30" y2="132" stroke="#111111" stroke-width="1"/>
<rect x="478.90" y="126" width="2.8" height="5" fill="#111111"/>
<line x1="484.25" y1="122" x2="484.25" y2="129" stroke="#111111" stroke-width="1"/>
<rect x="482.85" y="123" width="2.8" height="5" fill="#111111"/>
<line x1="488.21" y1="122" x2="488.21" y2="129" stroke="#5db7d3" stroke-width="1"/>
<rect x="486.81" y="123" width="2.8" height="5" fill="#5db7d3"/>
<line x1="492.17" y1="121" x2="492.17" y2="129" stroke="#111111" stroke-width="1"/>
<rect x="490.77" y="122" width="2.8" height="6" fill="#111111"/>
<line x1="496.13" y1="120" x2="496.13" y2="148" stroke="#5db7d3" stroke-width="1"/>
<rect x="494.73" y="121" width="2.8" height="26" fill="#5db7d3"/>
<line x1="500.09" y1="137" x2="500.09" y2="160" stroke="#5db7d3" stroke-width="1"/>
<rect x="498.69" y="138" width="2.8" height="20" fill="#5db7d3"/>
<line x1="504.04" y1="152" x2="504.04" y2="452" stroke="#5db7d3" stroke-width="1"/>
<rect x="502.64" y="153" width="2.8" height="75" fill="#5db7d3"/>
<line x1="508.00" y1="208" x2="508.00" y2="292" stroke="#111111" stroke-width="1"/>
<rect x="506.60" y="220" width="2.8" height="8" fill="#111111"/>
<line x1="511.96" y1="208" x2="511.96" y2="222" stroke="#111111" stroke-width="1"/>
<rect x="510.56" y="209" width="2.8" height="12" fill="#111111"/>
<line x1="515.92" y1="196" x2="515.92" y2="220" stroke="#111111" stroke-width="1"/>
<rect x="514.52" y="202" width="2.8" height="16" fill="#111111"/>
<line x1="519.88" y1="202" x2="519.88" y2="219" stroke="#5db7d3" stroke-width="1"/>
<rect x="518.48" y="203" width="2.8" height="15" fill="#5db7d3"/>
<line x1="523.83" y1="199" x2="523.83" y2="225" stroke="#5db7d3" stroke-width="1"/>
<rect x="522.43" y="200" width="2.8" height="24" fill="#5db7d3"/>
<line x1="527.79" y1="217" x2="527.79" y2="234" stroke="#5db7d3" stroke-width="1"/>
<rect x="526.39" y="218" width="2.8" height="15" fill="#5db7d3"/>
<line x1="531.75" y1="221" x2="531.75" y2="241" stroke="#5db7d3" stroke-width="1"/>
<rect x="530.35" y="222" width="2.8" height="13.699999999999989" fill="#5db7d3"/>
<line x1="535.71" y1="220.5" x2="535.71" y2="235" stroke="#111111" stroke-width="1"/>
<rect x="534.31" y="221.4" width="2.8" height="12.599999999999994" fill="#111111"/>
<line x1="539.67" y1="219.6" x2="539.67" y2="226.8" stroke="#111111" stroke-width="1"/>
<rect x="538.27" y="220.5" width="2.8" height="1.5" fill="#111111"/>
<line x1="543.62" y1="193.75" x2="543.62" y2="228.6" stroke="#111111" stroke-width="1"/>
<rect x="542.22" y="199" width="2.8" height="23" fill="#111111"/>
<line x1="547.58" y1="185.5" x2="547.58" y2="202" stroke="#111111" stroke-width="1"/>
<rect x="546.18" y="186.6" width="2.8" height="14.400000000000006" fill="#111111"/>
<line x1="551.54" y1="178.6" x2="551.54" y2="194.5" stroke="#5db7d3" stroke-width="1"/>
<rect x="550.14" y="183" width="2.8" height="10.75" fill="#5db7d3"/>
<line x1="555.50" y1="175" x2="555.50" y2="193.5" stroke="#111111" stroke-width="1"/>
<rect x="554.10" y="184.8" width="2.8" height="8.099999999999994" fill="#111111"/>
<line x1="559.46" y1="166" x2="559.46" y2="187.5" stroke="#111111" stroke-width="1"/>
<rect x="558.06" y="167" width="2.8" height="19.599999999999994" fill="#111111"/>
<line x1="563.41" y1="165.5" x2="563.41" y2="185.5" stroke="#5db7d3" stroke-width="1"/>
<rect x="562.01" y="167" width="2.8" height="17.80000000000001" fill="#5db7d3"/>
<line x1="567.37" y1="171.4" x2="567.37" y2="184.8" stroke="#111111" stroke-width="1"/>
<rect x="565.97" y="176.8" width="2.8" height="6.199999999999989" fill="#111111"/>
<line x1="571.33" y1="164.3" x2="571.33" y2="181" stroke="#111111" stroke-width="1"/>
<rect x="569.93" y="167" width="2.8" height="11.599999999999994" fill="#111111"/>
<line x1="575.29" y1="163.5" x2="575.29" y2="174" stroke="#5db7d3" stroke-width="1"/>
<rect x="573.89" y="164.3" width="2.8" height="8.899999999999977" fill="#5db7d3"/>
<line x1="579.25" y1="170.5" x2="579.25" y2="186" stroke="#5db7d3" stroke-width="1"/>
<rect x="577.85" y="171.4" width="2.8" height="11.599999999999994" fill="#5db7d3"/>
<line x1="583.20" y1="182" x2="583.20" y2="215" stroke="#5db7d3" stroke-width="1"/>
<rect x="581.80" y="183" width="2.8" height="27.69999999999999" fill="#5db7d3"/>
<line x1="587.16" y1="203.6" x2="587.16" y2="216" stroke="#5db7d3" stroke-width="1"/>
<rect x="585.76" y="205" width="2.8" height="9" fill="#5db7d3"/>
<line x1="591.12" y1="196.5" x2="591.12" y2="222.3" stroke="#111111" stroke-width="1"/>
<rect x="589.72" y="197.3" width="2.8" height="13.399999999999977" fill="#111111"/>
<line x1="595.08" y1="189" x2="595.08" y2="208" stroke="#5db7d3" stroke-width="1"/>
<rect x="593.68" y="190" width="2.8" height="17" fill="#5db7d3"/>
<line x1="599.04" y1="195" x2="599.04" y2="202.5" stroke="#111111" stroke-width="1"/>
<rect x="597.64" y="195.5" width="2.8" height="6.300000000000011" fill="#111111"/>
<line x1="602.99" y1="192" x2="602.99" y2="200" stroke="#5db7d3" stroke-width="1"/>
<rect x="601.59" y="193" width="2.8" height="6" fill="#5db7d3"/>
<line x1="606.95" y1="194" x2="606.95" y2="201.5" stroke="#111111" stroke-width="1"/>
<rect x="605.55" y="194.6" width="2.8" height="6.300000000000011" fill="#111111"/>
<line x1="610.91" y1="186" x2="610.91" y2="201.5" stroke="#5db7d3" stroke-width="1"/>
<rect x="609.51" y="186.6" width="2.8" height="14.300000000000011" fill="#5db7d3"/>
<line x1="614.87" y1="196.5" x2="614.87" y2="214" stroke="#5db7d3" stroke-width="1"/>
<rect x="613.47" y="197.3" width="2.8" height="16.099999999999994" fill="#5db7d3"/>
<line x1="618.83" y1="208" x2="618.83" y2="220.5" stroke="#5db7d3" stroke-width="1"/>
<rect x="617.43" y="209" width="2.8" height="10.599999999999994" fill="#5db7d3"/>
<line x1="622.78" y1="215.5" x2="622.78" y2="226.8" stroke="#111111" stroke-width="1"/>
<rect x="621.38" y="216" width="2.8" height="1.5" fill="#111111"/>
<line x1="626.74" y1="215.5" x2="626.74" y2="220" stroke="#111111" stroke-width="1"/>
<rect x="625.34" y="216" width="2.8" height="3.5999999999999943" fill="#111111"/>
<line x1="630.70" y1="214.5" x2="630.70" y2="221" stroke="#5db7d3" stroke-width="1"/>
<rect x="629.30" y="215" width="2.8" height="5.5" fill="#5db7d3"/>
<line x1="634.66" y1="205.5" x2="634.66" y2="231" stroke="#111111" stroke-width="1"/>
<rect x="633.26" y="207" width="2.8" height="13" fill="#111111"/>
<line x1="638.62" y1="204.5" x2="638.62" y2="233.5" stroke="#5db7d3" stroke-width="1"/>
<rect x="637.22" y="205.5" width="2.8" height="27.099999999999994" fill="#5db7d3"/>
<line x1="642.57" y1="221.5" x2="642.57" y2="241" stroke="#5db7d3" stroke-width="1"/>
<rect x="641.17" y="222.4" width="2.8" height="17.599999999999994" fill="#5db7d3"/>
<line x1="646.53" y1="235" x2="646.53" y2="247" stroke="#111111" stroke-width="1"/>
<rect x="645.13" y="236" width="2.8" height="2" fill="#111111"/>
<line x1="650.49" y1="221.6" x2="650.49" y2="239.5" stroke="#111111" stroke-width="1"/>
<rect x="649.09" y="229" width="2.8" height="9.599999999999994" fill="#111111"/>
<line x1="654.45" y1="229" x2="654.45" y2="260.5" stroke="#5db7d3" stroke-width="1"/>
<rect x="653.05" y="230" width="2.8" height="29.80000000000001" fill="#5db7d3"/>
<line x1="658.41" y1="245" x2="658.41" y2="269" stroke="#111111" stroke-width="1"/>
<rect x="657.01" y="247" width="2.8" height="11" fill="#111111"/>
<line x1="662.36" y1="242" x2="662.36" y2="250.5" stroke="#111111" stroke-width="1"/>
<rect x="660.96" y="242.8" width="2.8" height="6.799999999999983" fill="#111111"/>
<line x1="666.32" y1="237.7" x2="666.32" y2="247" stroke="#5db7d3" stroke-width="1"/>
<rect x="664.92" y="240" width="2.8" height="5" fill="#5db7d3"/>
<line x1="670.28" y1="233.5" x2="670.28" y2="245.4" stroke="#5db7d3" stroke-width="1"/>
<rect x="668.88" y="236" width="2.8" height="5" fill="#5db7d3"/>
<line x1="674.24" y1="233" x2="674.24" y2="247" stroke="#111111" stroke-width="1"/>
<rect x="672.84" y="234" width="2.8" height="12" fill="#111111"/>
<line x1="678.20" y1="225.8" x2="678.20" y2="239.4" stroke="#111111" stroke-width="1"/>
<rect x="676.80" y="230" width="2.8" height="6" fill="#111111"/>
<line x1="682.15" y1="225" x2="682.15" y2="232.5" stroke="#111111" stroke-width="1"/>
<rect x="680.75" y="225.8" width="2.8" height="6.0" fill="#111111"/>
<line x1="686.11" y1="222.5" x2="686.11" y2="233.5" stroke="#5db7d3" stroke-width="1"/>
<rect x="684.71" y="224" width="2.8" height="8.599999999999994" fill="#5db7d3"/>
<line x1="690.07" y1="227.5" x2="690.07" y2="236" stroke="#111111" stroke-width="1"/>
<rect x="688.67" y="228.4" width="2.8" height="5.099999999999994" fill="#111111"/>
<line x1="694.03" y1="226.5" x2="694.03" y2="232" stroke="#5db7d3" stroke-width="1"/>
<rect x="692.63" y="227.5" width="2.8" height="3.5" fill="#5db7d3"/>
<line x1="697.99" y1="228.5" x2="697.99" y2="235" stroke="#111111" stroke-width="1"/>
<rect x="696.59" y="229" width="2.8" height="2" fill="#111111"/>
<line x1="701.94" y1="228" x2="701.94" y2="234.5" stroke="#5db7d3" stroke-width="1"/>
<rect x="700.54" y="229" width="2.8" height="4.5" fill="#5db7d3"/>
<line x1="705.90" y1="220.7" x2="705.90" y2="238.6" stroke="#111111" stroke-width="1"/>
<rect x="704.50" y="226.7" width="2.8" height="7.600000000000023" fill="#111111"/>
<line x1="709.86" y1="216.5" x2="709.86" y2="229" stroke="#111111" stroke-width="1"/>
<rect x="708.46" y="220" width="2.8" height="8.400000000000006" fill="#111111"/>
<line x1="713.82" y1="216.5" x2="713.82" y2="222.4" stroke="#5db7d3" stroke-width="1"/>
<rect x="712.42" y="218" width="2.8" height="4" fill="#5db7d3"/>
<line x1="717.78" y1="219" x2="717.78" y2="225" stroke="#5db7d3" stroke-width="1"/>
<rect x="716.38" y="220" width="2.8" height="4" fill="#5db7d3"/>
<line x1="721.73" y1="211.5" x2="721.73" y2="231" stroke="#111111" stroke-width="1"/>
<rect x="720.33" y="212.3" width="2.8" height="12.699999999999989" fill="#111111"/>
<line x1="725.69" y1="203" x2="725.69" y2="214" stroke="#111111" stroke-width="1"/>
<rect x="724.29" y="203.8" width="2.8" height="9.199999999999989" fill="#111111"/>
<line x1="729.65" y1="204" x2="729.65" y2="209" stroke="#5db7d3" stroke-width="1"/>
<rect x="728.25" y="204.6" width="2.8" height="3.4000000000000057" fill="#5db7d3"/>
<line x1="733.61" y1="202" x2="733.61" y2="209" stroke="#111111" stroke-width="1"/>
<rect x="732.21" y="205.5" width="2.8" height="2.5" fill="#111111"/>
<line x1="737.57" y1="186" x2="737.57" y2="214" stroke="#111111" stroke-width="1"/>
<rect x="736.17" y="191.9" width="2.8" height="15.099999999999994" fill="#111111"/>
<line x1="741.52" y1="189" x2="741.52" y2="201.5" stroke="#5db7d3" stroke-width="1"/>
<rect x="740.12" y="190" width="2.8" height="10.599999999999994" fill="#5db7d3"/>
<line x1="745.48" y1="198.5" x2="745.48" y2="210" stroke="#5db7d3" stroke-width="1"/>
<rect x="744.08" y="199.4" width="2.8" height="10.0" fill="#5db7d3"/>
<line x1="749.44" y1="208" x2="749.44" y2="217.5" stroke="#5db7d3" stroke-width="1"/>
<rect x="748.04" y="208.75" width="2.8" height="8.150000000000006" fill="#5db7d3"/>
<line x1="753.40" y1="212.5" x2="753.40" y2="220.6" stroke="#111111" stroke-width="1"/>
<rect x="752.00" y="213" width="2.8" height="1.5" fill="#111111"/>
<line x1="757.36" y1="189" x2="757.36" y2="218" stroke="#111111" stroke-width="1"/>
<rect x="755.96" y="190.6" width="2.8" height="23.150000000000006" fill="#111111"/>
<line x1="761.31" y1="191.5" x2="761.31" y2="204" stroke="#5db7d3" stroke-width="1"/>
<rect x="759.91" y="192.5" width="2.8" height="10.5" fill="#5db7d3"/>
<line x1="765.27" y1="198" x2="765.27" y2="216.5" stroke="#5db7d3" stroke-width="1"/>
<rect x="763.87" y="198.75" width="2.8" height="16.849999999999994" fill="#5db7d3"/>
<line x1="769.23" y1="212.5" x2="769.23" y2="219.4" stroke="#5db7d3" stroke-width="1"/>
<rect x="767.83" y="213" width="2.8" height="5.5" fill="#5db7d3"/>
<line x1="773.19" y1="212.5" x2="773.19" y2="221.25" stroke="#5db7d3" stroke-width="1"/>
<rect x="771.79" y="213.5" width="2.8" height="6.5" fill="#5db7d3"/>
<line x1="777.15" y1="218.75" x2="777.15" y2="228" stroke="#5db7d3" stroke-width="1"/>
<rect x="775.75" y="219.4" width="2.8" height="2.5" fill="#5db7d3"/>
<line x1="781.10" y1="216.9" x2="781.10" y2="228" stroke="#111111" stroke-width="1"/>
<rect x="779.70" y="217.5" width="2.8" height="4.5" fill="#111111"/>
<line x1="785.06" y1="220" x2="785.06" y2="231" stroke="#5db7d3" stroke-width="1"/>
<rect x="783.66" y="220.6" width="2.8" height="6.900000000000006" fill="#5db7d3"/>
<line x1="789.02" y1="226" x2="789.02" y2="237.5" stroke="#5db7d3" stroke-width="1"/>
<rect x="787.62" y="226.9" width="2.8" height="4.349999999999994" fill="#5db7d3"/>
<line x1="792.98" y1="224.5" x2="792.98" y2="230" stroke="#111111" stroke-width="1"/>
<rect x="791.58" y="225" width="2.8" height="4.400000000000006" fill="#111111"/>
<line x1="796.94" y1="215.5" x2="796.94" y2="227" stroke="#111111" stroke-width="1"/>
<rect x="795.54" y="216.25" width="2.8" height="10.0" fill="#111111"/>
<line x1="800.89" y1="217" x2="800.89" y2="224.5" stroke="#5db7d3" stroke-width="1"/>
<rect x="799.49" y="217.5" width="2.8" height="6.25" fill="#5db7d3"/>
<line x1="804.85" y1="215.5" x2="804.85" y2="226.9" stroke="#111111" stroke-width="1"/>
<rect x="803.45" y="216.25" width="2.8" height="8.75" fill="#111111"/>
<line x1="808.81" y1="215" x2="808.81" y2="222" stroke="#5db7d3" stroke-width="1"/>
<rect x="807.41" y="218" width="2.8" height="3" fill="#5db7d3"/>
<line x1="812.77" y1="219" x2="812.77" y2="225.6" stroke="#5db7d3" stroke-width="1"/>
<rect x="811.37" y="219.4" width="2.8" height="5.599999999999994" fill="#5db7d3"/>
<line x1="816.73" y1="219" x2="816.73" y2="224.5" stroke="#111111" stroke-width="1"/>
<rect x="815.33" y="219.4" width="2.8" height="4.349999999999994" fill="#111111"/>
<line x1="820.68" y1="209.5" x2="820.68" y2="220.5" stroke="#111111" stroke-width="1"/>
<rect x="819.28" y="210" width="2.8" height="10" fill="#111111"/>
<line x1="824.64" y1="205.5" x2="824.64" y2="213" stroke="#111111" stroke-width="1"/>
<rect x="823.24" y="206.25" width="2.8" height="6.25" fill="#111111"/>
<line x1="828.60" y1="194.4" x2="828.60" y2="208.5" stroke="#111111" stroke-width="1"/>
<rect x="827.20" y="201.9" width="2.8" height="6.099999999999994" fill="#111111"/>
<line x1="832.56" y1="194.5" x2="832.56" y2="206" stroke="#111111" stroke-width="1"/>
<rect x="831.16" y="195" width="2.8" height="10.599999999999994" fill="#111111"/>
<line x1="836.52" y1="194.5" x2="836.52" y2="198.5" stroke="#111111" stroke-width="1"/>
<rect x="835.12" y="195" width="2.8" height="3" fill="#111111"/>
<line x1="840.47" y1="183.75" x2="840.47" y2="197.5" stroke="#111111" stroke-width="1"/>
<rect x="839.07" y="187.5" width="2.8" height="9.400000000000006" fill="#111111"/>
<line x1="844.43" y1="182" x2="844.43" y2="188.75" stroke="#111111" stroke-width="1"/>
<rect x="843.03" y="186" width="2.8" height="2" fill="#111111"/>
<line x1="848.39" y1="180.5" x2="848.39" y2="191" stroke="#111111" stroke-width="1"/>
<rect x="846.99" y="181.25" width="2.8" height="9.349999999999994" fill="#111111"/>
<line x1="852.35" y1="170.5" x2="852.35" y2="184" stroke="#111111" stroke-width="1"/>
<rect x="850.95" y="172" width="2.8" height="11" fill="#111111"/>
<line x1="856.31" y1="162.5" x2="856.31" y2="177.5" stroke="#111111" stroke-width="1"/>
<rect x="854.91" y="173" width="2.8" height="4" fill="#111111"/>
<line x1="860.26" y1="171" x2="860.26" y2="177" stroke="#5db7d3" stroke-width="1"/>
<rect x="858.86" y="172" width="2.8" height="4" fill="#5db7d3"/>
<line x1="864.22" y1="168.4" x2="864.22" y2="177" stroke="#111111" stroke-width="1"/>
<rect x="862.82" y="174" width="2.8" height="2.4000000000000057" fill="#111111"/>
<line x1="868.18" y1="169" x2="868.18" y2="175" stroke="#111111" stroke-width="1"/>
<rect x="866.78" y="169.5" width="2.8" height="4.800000000000011" fill="#111111"/>
<line x1="872.14" y1="160.5" x2="872.14" y2="171" stroke="#111111" stroke-width="1"/>
<rect x="870.74" y="161.4" width="2.8" height="8.599999999999994" fill="#111111"/>
<line x1="876.10" y1="162" x2="876.10" y2="167" stroke="#5db7d3" stroke-width="1"/>
<rect x="874.70" y="163" width="2.8" height="3" fill="#5db7d3"/>
<line x1="880.05" y1="166" x2="880.05" y2="172.5" stroke="#5db7d3" stroke-width="1"/>
<rect x="878.65" y="166.8" width="2.8" height="4.799999999999983" fill="#5db7d3"/>
<line x1="884.01" y1="160.9" x2="884.01" y2="174.8" stroke="#111111" stroke-width="1"/>
<rect x="882.61" y="163" width="2.8" height="9" fill="#111111"/>
<line x1="887.97" y1="157.7" x2="887.97" y2="169.5" stroke="#5db7d3" stroke-width="1"/>
<rect x="886.57" y="163" width="2.8" height="2.6999999999999886" fill="#5db7d3"/>
<line x1="891.93" y1="157.7" x2="891.93" y2="168.5" stroke="#5db7d3" stroke-width="1"/>
<rect x="890.53" y="165" width="2.8" height="2" fill="#5db7d3"/>
<line x1="895.89" y1="166.5" x2="895.89" y2="173" stroke="#5db7d3" stroke-width="1"/>
<rect x="894.49" y="167.3" width="2.8" height="4.699999999999989" fill="#5db7d3"/>
<line x1="899.84" y1="160" x2="899.84" y2="174.3" stroke="#111111" stroke-width="1"/>
<rect x="898.44" y="160.9" width="2.8" height="10.099999999999994" fill="#111111"/>
<line x1="903.80" y1="151.8" x2="903.80" y2="161.5" stroke="#111111" stroke-width="1"/>
<rect x="902.40" y="158.7" width="2.8" height="2.200000000000017" fill="#111111"/>
<line x1="907.76" y1="158.5" x2="907.76" y2="168" stroke="#5db7d3" stroke-width="1"/>
<rect x="906.36" y="159.3" width="2.8" height="5.899999999999977" fill="#5db7d3"/>
<line x1="911.72" y1="165" x2="911.72" y2="172" stroke="#5db7d3" stroke-width="1"/>
<rect x="910.32" y="166" width="2.8" height="5" fill="#5db7d3"/>
<line x1="915.68" y1="160" x2="915.68" y2="172" stroke="#111111" stroke-width="1"/>
<rect x="914.28" y="161" width="2.8" height="10" fill="#111111"/>
<line x1="919.63" y1="158.7" x2="919.63" y2="166.5" stroke="#111111" stroke-width="1"/>
<rect x="918.23" y="163" width="2.8" height="3" fill="#111111"/>
<line x1="923.59" y1="152.3" x2="923.59" y2="172" stroke="#5db7d3" stroke-width="1"/>
<rect x="922.19" y="163" width="2.8" height="2" fill="#5db7d3"/>
<line x1="927.55" y1="156" x2="927.55" y2="172" stroke="#111111" stroke-width="1"/>
<rect x="926.15" y="165" width="2.8" height="3" fill="#111111"/>
<line x1="931.51" y1="165" x2="931.51" y2="181.8" stroke="#5db7d3" stroke-width="1"/>
<rect x="930.11" y="166.2" width="2.8" height="7.5" fill="#5db7d3"/>
<line x1="935.47" y1="169" x2="935.47" y2="175" stroke="#111111" stroke-width="1"/>
<rect x="934.07" y="170" width="2.8" height="4.300000000000011" fill="#111111"/>
</g>
</svg>
<!-- header -->
<div class="abs" style="left:65px;top:19px;font-size:14px;color:#1c1c1c;letter-spacing:-.08px;">XRP / U.S. Dollar · 4h · Kraken</div>
<div class="abs" style="left:281px;top:15px;width:368px;height:21px;background:rgba(255,255,255,.55)"></div>
<div class="abs t12" style="left:285px;top:19.5px;font-size:12.5px;letter-spacing:.22px"><span style="color:#222">O</span><span style="color:#4f9e84">2.63421</span> <span style="color:#222;margin-left:3px">H</span><span style="color:#4f9e84">2.66000</span> <span style="color:#222;margin-left:3px">L</span><span style="color:#4f9e84">2.62149</span> <span style="color:#222;margin-left:3px">C</span><span style="color:#4f9e84">2.64711</span> <span style="color:#4f9e84;margin-left:4px">+0.01268 (+0.48%)</span></div>
<!-- sell / buy -->
<div class="abs" style="left:44px;top:40px;width:65px;height:28px;border:1px solid #e26e70;border-radius:5px;text-align:center;color:#dc595c;background:#fff"><div style="font-size:12px;font-weight:bold;margin-top:1.5px;letter-spacing:.3px">2.64779</div><div style="font-size:10.5px;margin-top:1.5px;letter-spacing:0">SELL</div></div>
<div class="abs" style="left:118px;top:51px;font-size:10px;color:#333;letter-spacing:.2px">0.00032</div>
<div class="abs" style="left:162px;top:40px;width:66px;height:28px;border:1px solid #3f74e8;border-radius:5px;text-align:center;color:#3a6fe6;background:#fff"><div style="font-size:12px;font-weight:bold;margin-top:1.5px;letter-spacing:.3px">2.64811</div><div style="font-size:10.5px;margin-top:1.5px;letter-spacing:0">BUY</div></div>
<!-- EMA legend -->
<div class="abs" style="left:41px;top:76px;width:336px;height:18px;background:rgba(255,255,255,.5)"></div>
<div class="abs" style="left:45px;top:77.5px;font-size:13px;color:#222;letter-spacing:-.05px">EMA 20/50/100/200</div>
<div class="abs" style="left:166px;top:77.5px;font-size:13px;color:#e0605a;letter-spacing:.2px">2.61766</div>
<div class="abs" style="left:219px;top:77.5px;font-size:13px;color:#ee9a58;letter-spacing:.2px">2.56335</div>
<div class="abs" style="left:272px;top:77.5px;font-size:13px;color:#9fe6ee;letter-spacing:.2px">2.55941</div>
<div class="abs" style="left:326px;top:77.5px;font-size:13px;color:#4f6be0;letter-spacing:.2px">2.63511</div>
<!-- collapse btn -->
<div class="abs" style="left:44px;top:97px;width:24px;height:18px;border:1px solid #e4e4e6;border-radius:4px;background:rgba(255,255,255,.85)"><svg width="24" height="18" viewBox="0 0 24 18"><path d="M8.5 11 L12 7.5 L15.5 11" fill="none" stroke="#222" stroke-width="1.3"/></svg></div>
<!-- USD -->
<div class="abs" style="left:988px;top:16px;width:54px;height:21px;border:1px solid #ececee;border-radius:4px;background:#fff"><span style="position:absolute;left:3.5px;top:4.5px;font-size:11.5px;color:#222;letter-spacing:-.6px">USD</span><svg style="position:absolute;left:43px;top:7px" width="8" height="8" viewBox="0 0 8 8"><path d="M1.5 3 L4 5.2 L6.5 3" fill="none" stroke="#222" stroke-width="1.2"/></svg></div>
<!-- price axis -->
<div class="ax" style="top:76px">3.00000</div>
<div class="ax" style="top:122px">2.80000</div>
<div class="ax" style="top:261px">2.20000</div>
<div class="ax" style="top:307px">2.00000</div>
<div class="ax" style="top:353px">1.80000</div>
<div class="ax" style="top:399px">1.60000</div>
<div class="ax" style="top:446px">1.40000</div>
<!-- price labels -->
<div class="abs" style="left:934px;top:156px;width:51px;height:15px;background:#111;border-radius:3px;color:#fff;font-size:10.5px;line-height:15px;text-align:center;">XRPUSD</div>
<div class="pl" style="top:156px;height:28px;background:#111;border-radius:2px 2px 0 0;line-height:13px"><div style="margin-top:1.5px;text-align:left;padding-left:6.5px">2.64711</div><div style="color:#d8d8d8;text-align:left;padding-left:6.5px">51:15</div></div>
<div class="pl" style="top:184px;background:#2962ff;height:14.5px">2.63511</div>
<div class="pl" style="top:198.5px;background:#e2583e;height:15.5px">2.61766</div>
<div class="pl" style="top:214px;background:#f0883e;">2.56335</div>
<div class="pl" style="top:229px;background:#92e8f4;color:#0e2a33;height:15.5px">2.55941</div>
<!-- logo -->
<svg class="abs" style="left:47px;top:465px" width="27" height="14" viewBox="0 0 36 18"><path d="M14 18H7V7H0V0h14v18zM28 18h-8l7.5-18h8L28 18z" fill="#1c1c1c"/><circle cx="20" cy="3.5" r="3.5" fill="#1c1c1c"/></svg>
<div class="abs" style="left:80px;top:462px;font-size:20px;font-weight:bold;color:#1c1c1c;letter-spacing:-.85px">TradingView</div>
<!-- time axis -->
<div class="tm" style="left:57px">22</div><div class="tm" style="left:104px">24</div><div class="tm" style="left:152px">26</div><div class="tm" style="left:199px">28</div>
<div class="tm" style="left:270px;font-weight:bold">Oct</div><div class="tm" style="left:318px">3</div><div class="tm" style="left:365px">5</div><div class="tm" style="left:413px">7</div><div class="tm" style="left:460px">9</div><div class="tm" style="left:508px">11</div><div class="tm" style="left:555px">13</div><div class="tm" style="left:603px">15</div><div class="tm" style="left:650px">17</div><div class="tm" style="left:698px">19</div><div class="tm" style="left:745px">21</div><div class="tm" style="left:793px">23</div><div class="tm" style="left:840px">25</div><div class="tm" style="left:888px">27</div><div class="tm" style="left:935px">29</div>
<div class="abs" style="left:975px;top:499px;width:8px;overflow:hidden;font-size:11px;line-height:11px;color:#222">31</div>
<svg class="abs" style="left:1008.400px;top:496px" width="16" height="16" viewBox="0 0 18 18"><path d="M5.6 3.2h6.8l3.4 5.8-3.4 5.8H5.6L2.2 9z" fill="none" stroke="#222" stroke-width="1.2" stroke-linejoin="round"/><circle cx="9" cy="9" r="2" fill="none" stroke="#222" stroke-width="1.2"/></svg>
<!-- toolbar -->
<div class="abs" style="left:36px;top:516px;width:1012px;height:1px;background:#ececee"></div>
<div class="tb" style="left:50px">1D</div><div class="tb" style="left:77px">5D</div><div class="tb" style="left:105px">1M</div><div class="tb" style="left:134px">3M</div><div class="tb" style="left:163px">6M</div><div class="tb" style="left:193px">YTD</div><div class="tb" style="left:229px">1Y</div><div class="tb" style="left:255px">5Y</div><div class="tb" style="left:282px">All</div>
<div class="abs" style="left:305px;top:524px;width:1px;height:20px;background:#e4e4e6"></div>
<svg class="abs" style="left:317px;top:525px" width="18" height="18" viewBox="0 0 18 18" fill="none" stroke="#222" stroke-width="1.2"><path d="M2 7.5V4.5a1.5 1.5 0 0 1 1.500-1.500h11a1.500 1.500 0 0 1 1.500 1.500v10a1.500 1.500 0 0 1-1.500 1.500H10"/><path d="M2 6.500h14"/><path d="M5.500 1v3.500M12.500 1v3.500"/><path d="M1 12h6.500M5 9.500l2.500 2.500L5 14.500"/></svg>
<div class="abs" style="left:956px;top:528px;font-size:13px;color:#222;letter-spacing:.2px;">11:08:45 UTC</div>
<!-- xrp icon -->
<svg class="abs" style="left:44px;top:17px" width="17" height="17" viewBox="0 0 17 17"><circle cx="8.5" cy="8.5" r="8.4" fill="#111"/><path d="M4.600 4.800 L7 7.200 Q8.500 8.400 10 7.200 L12.400 4.800 M4.600 12.200 L7 9.800 Q8.500 8.600 10 9.800 L12.400 12.200" fill="none" stroke="#fff" stroke-width="1.300"/></svg>
<!-- green dot -->
<svg class="abs" style="left:262px;top:18px" width="16" height="16" viewBox="0 0 16 16"><circle cx="8" cy="8" r="7.300" fill="#d7ece5"/><circle cx="8" cy="8" r="3.600" fill="#4f9e84"/></svg>
<!-- flags -->
<svg class="abs" style="left:925.500px;top:466.700px" width="58" height="26" viewBox="0 0 58 26">
<circle cx="18.300" cy="13" r="8.700" fill="#fff" stroke="#8a5cf6" stroke-width="1.200"/>
<circle cx="8.400" cy="16.500" r="4.600" fill="#fff"/>
<path d="M8.400 12.700l1.100 2.700 2.700 1.100-2.700 1.100-1.100 2.700-1.100-2.700-2.700-1.100 2.700-1.100z" fill="#5b5bf0" stroke="#5b5bf0" stroke-width=".6" stroke-linejoin="round"/>
<g id="fl"><circle cx="25.500" cy="13" r="8.700" fill="#fff" stroke="#e0524e" stroke-width="1.300"/><clipPath id="fc"><circle cx="25.500" cy="13" r="6.800"/></clipPath><g clip-path="url(#fc)"><rect x="18" y="6" width="15" height="14" fill="#fff"/><rect x="18" y="11" width="15" height="2.600" fill="#e0524e"/><rect x="18" y="17.100" width="15" height="3" fill="#e0524e"/><rect x="18" y="6" width="9.200" height="7.400" fill="#4a90e8"/><path d="M20.500 8v4M22.500 7.500v4.500M24.500 7.500v4.500" stroke="#cfe3fa" stroke-width=".6"/></g></g>
<g transform="translate(19.4,0)"><circle cx="25.500" cy="13" r="8.700" fill="#fff" stroke="#e0524e" stroke-width="1.300"/><clipPath id="fc2"><circle cx="25.500" cy="13" r="6.800"/></clipPath><g clip-path="url(#fc2)"><rect x="18" y="6" width="15" height="14" fill="#fff"/><rect x="18" y="11" width="15" height="2.600" fill="#e0524e"/><rect x="18" y="17.100" width="15" height="3" fill="#e0524e"/><rect x="18" y="6" width="9.200" height="7.400" fill="#4a90e8"/><path d="M20.500 8v4M22.500 7.500v4.500M24.500 7.500v4.500" stroke="#cfe3fa" stroke-width=".6"/></g></g>
</svg>
</body></html>
